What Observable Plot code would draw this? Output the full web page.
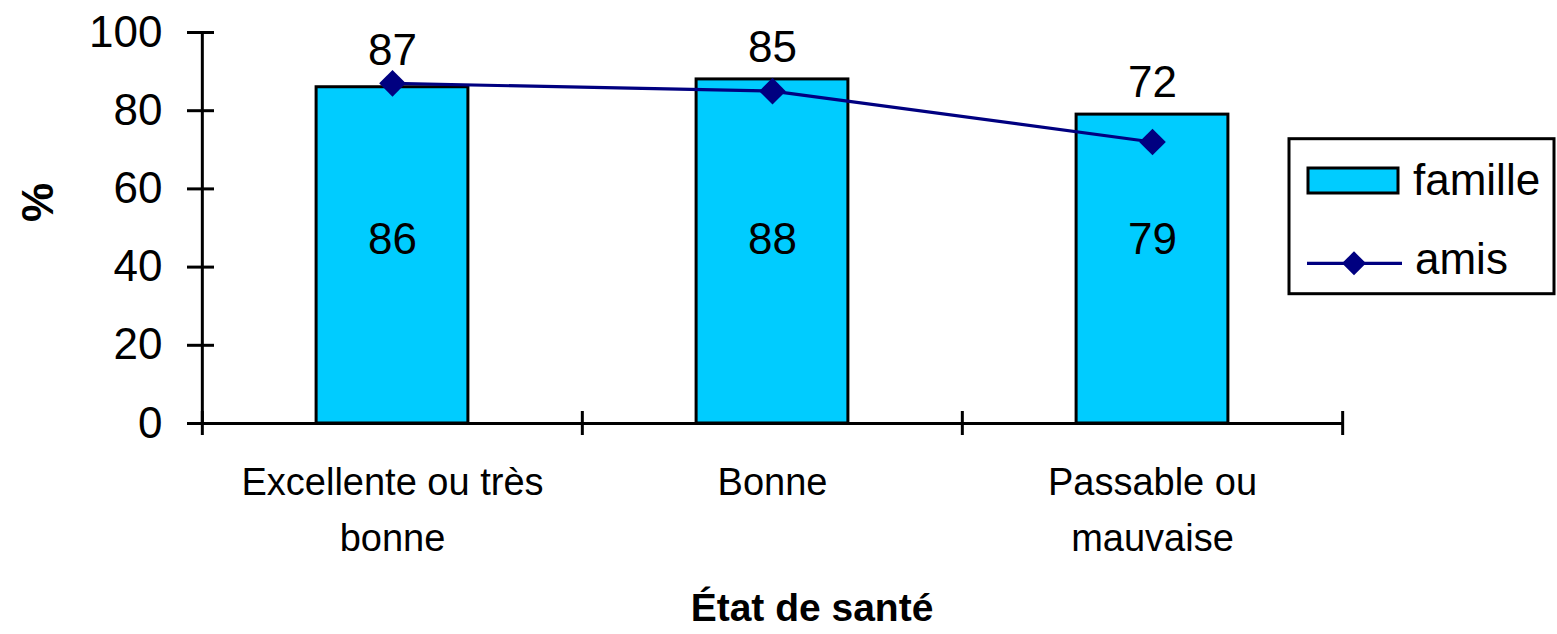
<!DOCTYPE html>
<html><head><meta charset="utf-8">
<script src="https://cdn.jsdelivr.net/npm/d3@7"></script>
<script src="https://cdn.jsdelivr.net/npm/@observablehq/plot@0.6"></script>
<style>
html,body{margin:0;padding:0;background:#fff;}
#chart{position:relative;width:1557px;height:634px;font-family:"Liberation Sans",Arial,sans-serif;}
#chart > svg{display:block;}
#legend{position:absolute;left:1280px;top:130px;}
</style></head><body><div id="chart"></div>
<script>
const categories = ["Excellente ou très\nbonne", "Bonne", "Passable ou\nmauvaise"];
const famille = [86, 88, 79];
const amis = [87, 85, 72];
const yTicks = [0, 20, 40, 60, 80, 100];
const seriesNames = ["famille", "amis"];
const xTitle = "État de santé";
const yTitle = "%";

const data = categories.map((c, i) => ({cat: c, famille: famille[i], amis: amis[i]}));

const W = 1557, H = 634;
const mL = 201, mR = 215, mT = 32, mB = 211;
const band = (W - mL - mR) / categories.length;
const barFill = "#00CCFF", lineColor = "#000080";

const chart = Plot.plot({
  width: W, height: H, marginLeft: mL, marginRight: mR, marginTop: mT, marginBottom: mB,
  style: {fontFamily: '"Liberation Sans", Arial, sans-serif', background: "white", color: "black", overflow: "visible"},
  x: {type: "band", domain: categories, padding: 0, label: null},
  y: {domain: [0, 100], label: null},
  marks: [
    Plot.barY(data, {x: "cat", y: "famille", fill: barFill, stroke: "black", strokeWidth: 3, insetLeft: band * 0.3, insetRight: band * 0.3}),
    Plot.text(data, {x: "cat", frameAnchor: "middle", text: d => String(d.famille), dy: 12, fontSize: 44}),
    Plot.ruleY([0], {strokeWidth: 3}),
    Plot.ruleX([categories[0]], {dx: -band / 2, strokeWidth: 3}),
    Plot.axisY({ticks: yTicks, tickSize: 27, dx: 13, fill: "none", strokeWidth: 3, label: null}),
    Plot.axisY({ticks: yTicks, tickSize: 0, tickPadding: 39, fontSize: 44, label: null}),
    Plot.axisX({ticks: categories, tickSize: 24, dy: -12, dx: -band / 2, fill: "none", strokeWidth: 3, label: null}),
    Plot.axisX({ticks: [categories[categories.length - 1]], tickSize: 24, dy: -12, dx: band / 2, fill: "none", strokeWidth: 3, label: null}),
    Plot.axisX({ticks: categories, tickSize: 0, tickPadding: 32, fontSize: 38, lineHeight: 1.47, label: null}),
    Plot.line(data, {x: "cat", y: "amis", stroke: lineColor, strokeWidth: 3.2}),
    Plot.dot(data, {x: "cat", y: "amis", symbol: "diamond2", r: 12, fill: lineColor, stroke: "none"}),
    Plot.text(data, {x: "cat", y: d => Math.max(d.famille, d.amis), text: d => String(d.amis), dy: -32, fontSize: 44}),
    Plot.text([xTitle], {frameAnchor: "bottom", text: d => d, dx: 40, dy: 185, fontSize: 39, fontWeight: "bold", lineAnchor: "middle"}),
    Plot.text([yTitle], {frameAnchor: "left", text: d => d, dx: -163, dy: -6, rotate: -90, fontSize: 44, fontWeight: "bold", lineAnchor: "middle"})
  ]
});
const root = document.getElementById("chart");
root.appendChild(chart);

// Legend
const lg = d3.select(root).append("svg").attr("id", "legend").attr("width", 277).attr("height", 170)
  .style("font-family", '"Liberation Sans", Arial, sans-serif');
lg.append("rect").attr("x", 9).attr("y", 8.7).attr("width", 265).attr("height", 155)
  .attr("fill", "white").attr("stroke", "black").attr("stroke-width", 3);
lg.append("rect").attr("x", 28).attr("y", 38).attr("width", 90).attr("height", 25)
  .attr("fill", barFill).attr("stroke", "black").attr("stroke-width", 3);
lg.append("text").attr("x", 133).attr("y", 65).attr("font-size", 44).text(seriesNames[0]);
lg.append("line").attr("x1", 27).attr("x2", 122).attr("y1", 133.3).attr("y2", 133.3)
  .attr("stroke", lineColor).attr("stroke-width", 3.2);
lg.append("path").attr("d", "M74,121.3L86,133.3L74,145.3L62,133.3Z").attr("fill", lineColor);
lg.append("text").attr("x", 135).attr("y", 144).attr("font-size", 44).text(seriesNames[1]);
</script>
</body></html>
